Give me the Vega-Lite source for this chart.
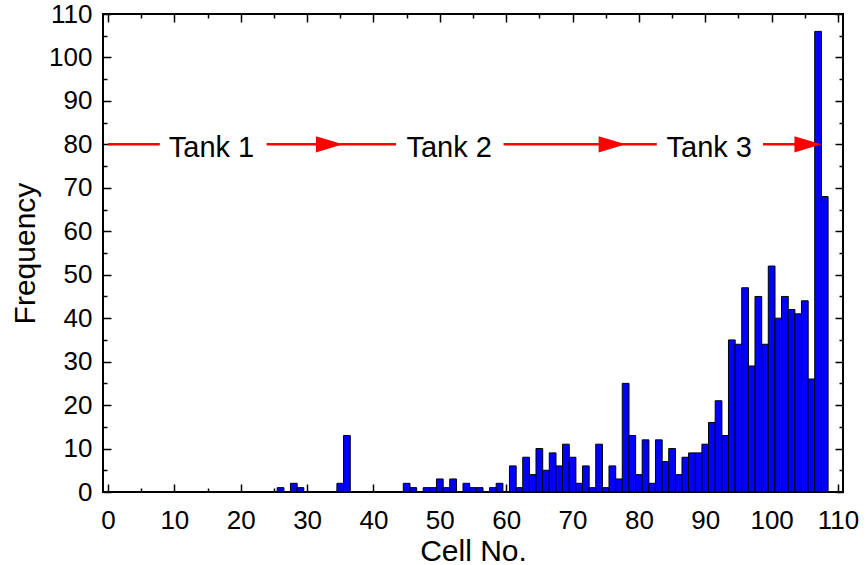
{
  "$schema": "https://vega.github.io/schema/vega-lite/v6.json",
  "width": 740,
  "height": 478,
  "autosize": {"type": "none"},
  "padding": {"left": 103, "top": 14, "right": 25, "bottom": 73},
  "background": "white",
  "config": {
    "view": {"stroke": "black", "strokeWidth": 2},
    "font": "Liberation Sans",
    "axis": {
      "domain": false,
      "grid": false,
      "tickColor": "black",
      "tickWidth": 1.5,
      "labelColor": "black",
      "titleColor": "black",
      "labelFont": "Liberation Sans",
      "titleFont": "Liberation Sans",
      "titleFontWeight": "normal"
    }
  },
  "datasets": {
    "counts": [
      {"cell": 26, "frequency": 1}, {"cell": 28, "frequency": 2}, {"cell": 29, "frequency": 1},
      {"cell": 35, "frequency": 2}, {"cell": 36, "frequency": 13},
      {"cell": 45, "frequency": 2}, {"cell": 46, "frequency": 1}, {"cell": 48, "frequency": 1},
      {"cell": 49, "frequency": 1}, {"cell": 50, "frequency": 3}, {"cell": 51, "frequency": 1},
      {"cell": 52, "frequency": 3}, {"cell": 54, "frequency": 2}, {"cell": 55, "frequency": 1},
      {"cell": 56, "frequency": 1}, {"cell": 58, "frequency": 1}, {"cell": 59, "frequency": 2},
      {"cell": 61, "frequency": 6}, {"cell": 62, "frequency": 1}, {"cell": 63, "frequency": 8},
      {"cell": 64, "frequency": 4}, {"cell": 65, "frequency": 10}, {"cell": 66, "frequency": 5},
      {"cell": 67, "frequency": 9}, {"cell": 68, "frequency": 6}, {"cell": 69, "frequency": 11},
      {"cell": 70, "frequency": 8}, {"cell": 71, "frequency": 2}, {"cell": 72, "frequency": 6},
      {"cell": 73, "frequency": 1}, {"cell": 74, "frequency": 11}, {"cell": 75, "frequency": 1},
      {"cell": 76, "frequency": 6}, {"cell": 77, "frequency": 3}, {"cell": 78, "frequency": 25},
      {"cell": 79, "frequency": 13}, {"cell": 80, "frequency": 4}, {"cell": 81, "frequency": 12},
      {"cell": 82, "frequency": 2}, {"cell": 83, "frequency": 12}, {"cell": 84, "frequency": 7},
      {"cell": 85, "frequency": 10}, {"cell": 86, "frequency": 4}, {"cell": 87, "frequency": 8},
      {"cell": 88, "frequency": 9}, {"cell": 89, "frequency": 9}, {"cell": 90, "frequency": 11},
      {"cell": 91, "frequency": 16}, {"cell": 92, "frequency": 21}, {"cell": 93, "frequency": 13},
      {"cell": 94, "frequency": 35}, {"cell": 95, "frequency": 34}, {"cell": 96, "frequency": 47},
      {"cell": 97, "frequency": 29}, {"cell": 98, "frequency": 45}, {"cell": 99, "frequency": 34},
      {"cell": 100, "frequency": 52}, {"cell": 101, "frequency": 40}, {"cell": 102, "frequency": 45},
      {"cell": 103, "frequency": 42}, {"cell": 104, "frequency": 41}, {"cell": 105, "frequency": 44},
      {"cell": 106, "frequency": 26}, {"cell": 107, "frequency": 106}, {"cell": 108, "frequency": 68}
    ],
    "flow": [
      {"start": 0, "end": 7.8, "level": 80},
      {"start": 23.9, "end": 35, "level": 80},
      {"start": 35, "end": 43.4, "level": 80},
      {"start": 59.6, "end": 82.7, "level": 80},
      {"start": 98.7, "end": 107, "level": 80}
    ],
    "heads": [
      {"tip": 35.4, "level": 80},
      {"tip": 78.0, "level": 80},
      {"tip": 107.5, "level": 80}
    ],
    "tanks": [
      {"label": "Tank 1", "pos": 15.6, "level": 80},
      {"label": "Tank 2", "pos": 51.4, "level": 80},
      {"label": "Tank 3", "pos": 90.6, "level": 80}
    ]
  },
  "layer": [
    {
      "data": {"name": "counts"},
      "mark": {"type": "bar", "orient": "vertical", "width": 6.73, "fill": "#0000ff", "stroke": "black", "strokeWidth": 1},
      "encoding": {
        "x": {
          "field": "cell", "type": "quantitative",
          "scale": {"domain": [0, 110], "nice": false, "zero": false},
          "axis": {
            "orient": "bottom",
            "values": [0, 5, 10, 15, 20, 25, 30, 35, 40, 45, 50, 55, 60, 65, 70, 75, 80, 85, 90, 95, 100, 105, 110],
            "labelExpr": "datum.value % 10 === 0 ? datum.label : ''",
            "tickSize": {"condition": {"test": "datum.value % 10 === 0", "value": -8}, "value": -4},
            "labelFontSize": 26,
            "labelPadding": 23,
            "labelFlush": false,
            "title": "Cell No.",
            "titleFontSize": 30,
            "titleBaseline": "alphabetic",
            "titleY": 68
          }
        },
        "y": {
          "field": "frequency", "type": "quantitative",
          "scale": {"domain": [0, 110], "nice": false},
          "axis": {
            "orient": "left",
            "values": [0, 5, 10, 15, 20, 25, 30, 35, 40, 45, 50, 55, 60, 65, 70, 75, 80, 85, 90, 95, 100, 105, 110],
            "labelExpr": "datum.value % 10 === 0 ? datum.label : ''",
            "tickSize": {"condition": {"test": "datum.value % 10 === 0", "value": -8}, "value": -4},
            "labelFontSize": 26,
            "labelPadding": 19,
            "labelFlush": false,
            "title": "Frequency",
            "titleFontSize": 30,
            "titleAngle": -90,
            "titleAlign": "center",
            "titleBaseline": "alphabetic",
            "titleX": -69,
            "titleY": 239
          }
        }
      }
    },
    {
      "data": {"name": "flow"},
      "mark": {"type": "rule", "color": "#ff0000", "strokeWidth": 2.5},
      "encoding": {
        "x": {
          "field": "start", "type": "quantitative",
          "axis": {
            "orient": "top",
            "values": [0, 5, 10, 15, 20, 25, 30, 35, 40, 45, 50, 55, 60, 65, 70, 75, 80, 85, 90, 95, 100, 105, 110],
            "labels": false,
            "tickSize": {"condition": {"test": "datum.value % 10 === 0", "value": -8}, "value": -4},
            "title": null
          }
        },
        "x2": {"field": "end"},
        "y": {
          "field": "level", "type": "quantitative",
          "axis": {
            "orient": "right",
            "values": [0, 5, 10, 15, 20, 25, 30, 35, 40, 45, 50, 55, 60, 65, 70, 75, 80, 85, 90, 95, 100, 105, 110],
            "labels": false,
            "tickSize": {"condition": {"test": "datum.value % 10 === 0", "value": -8}, "value": -4},
            "title": null
          }
        }
      }
    },
    {
      "data": {"name": "heads"},
      "mark": {"type": "point", "shape": "M-2,-0.6L0,0L-2,0.6Z", "size": 729, "filled": true, "color": "#ff0000", "opacity": 1, "strokeWidth": 0},
      "encoding": {
        "x": {"field": "tip", "type": "quantitative", "axis": null},
        "y": {"field": "level", "type": "quantitative", "axis": null}
      }
    },
    {
      "data": {"name": "tanks"},
      "mark": {"type": "text", "font": "Liberation Sans", "fontSize": 29, "color": "black", "align": "center", "baseline": "middle", "dy": 4},
      "encoding": {
        "x": {"field": "pos", "type": "quantitative", "axis": null},
        "y": {"field": "level", "type": "quantitative", "axis": null},
        "text": {"field": "label"}
      }
    }
  ],
  "resolve": {"axis": {"x": "independent", "y": "independent"}}
}
